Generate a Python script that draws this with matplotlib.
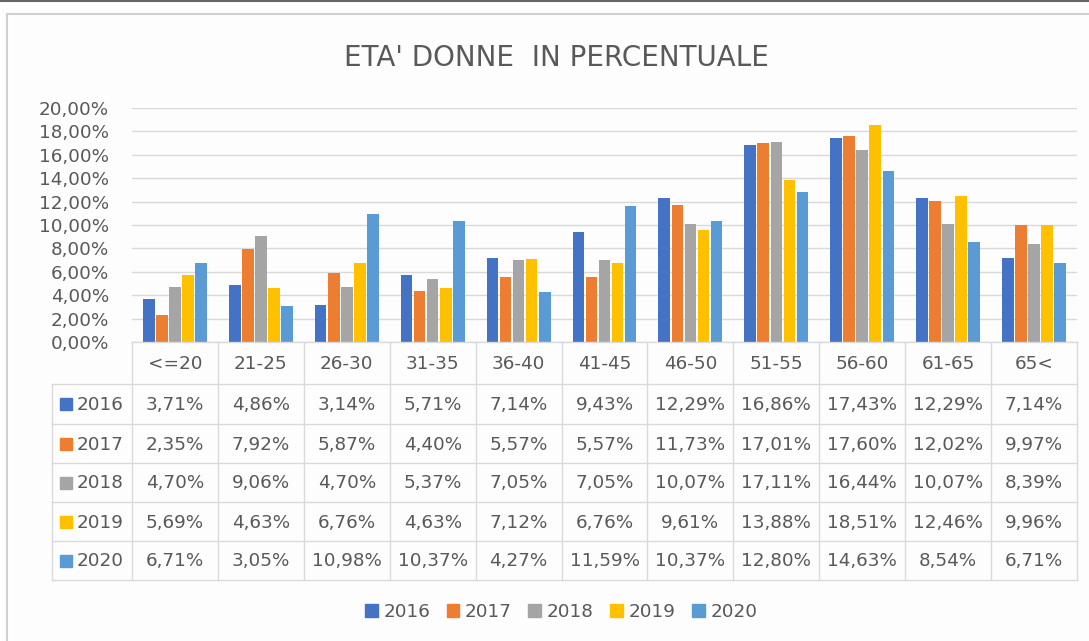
import matplotlib.pyplot as plt
from matplotlib.lines import Line2D
from matplotlib.patches import Rectangle
import numpy as np

plt.rcParams['font.family'] = ['DejaVu Sans']

categories = ['<=20', '21-25', '26-30', '31-35', '36-40', '41-45',
              '46-50', '51-55', '56-60', '61-65', '65<']
years = ['2016', '2017', '2018', '2019', '2020']
v2016 = [3.71, 4.86, 3.14, 5.71, 7.14, 9.43, 12.29, 16.86, 17.43, 12.29, 7.14]
v2017 = [2.35, 7.92, 5.87, 4.40, 5.57, 5.57, 11.73, 17.01, 17.60, 12.02, 9.97]
v2018 = [4.70, 9.06, 4.70, 5.37, 7.05, 7.05, 10.07, 17.11, 16.44, 10.07, 8.39]
v2019 = [5.69, 4.63, 6.76, 4.63, 7.12, 6.76, 9.61, 13.88, 18.51, 12.46, 9.96]
v2020 = [6.71, 3.05, 10.98, 10.37, 4.27, 11.59, 10.37, 12.80, 14.63, 8.54, 6.71]
series = [v2016, v2017, v2018, v2019, v2020]
colors = ['#4472C4', '#ED7D31', '#A5A5A5', '#FFC000', '#5B9BD5']

TXT = '#595959'
GRID = '#D9D9D9'
FS = 13.2
W, H = 1089, 641


def fx(px):
    return px / W


def fy(py):
    return 1 - py / H


fig = plt.figure(figsize=(10.89, 6.41), dpi=100)
fig.patch.set_facecolor('#FDFDFD')

# top line of the screenshot and the chart frame (left + top edges visible)
fig.add_artist(Line2D([0, 1], [fy(1), fy(1)], color='#666666', lw=1.5))
fig.add_artist(Line2D([fx(7), fx(7)], [0, fy(14)], color='#D0D0D0', lw=1.5))
fig.add_artist(Line2D([fx(7), 1], [fy(14), fy(14)], color='#D0D0D0', lw=1.5))

fig.text(fx(556), fy(58), "ETA' DONNE  IN PERCENTUALE", ha='center', va='center',
         fontsize=20, color=TXT)

# bar plot area
L, R, T, B = 132, 1077, 108, 342
ax = fig.add_axes([fx(L), fy(B), fx(R - L), fy(T) - fy(B)])
ax.set_facecolor('none')
n = len(categories)
x = np.arange(n)
step = 0.152
bw = 0.135
for i, (vals, c) in enumerate(zip(series, colors)):
    ax.bar(x + (i - 2) * step, vals, width=bw, color=c, zorder=3)
ax.set_xlim(-0.5, n - 0.5)
ax.set_ylim(0, 20)
ax.set_yticks(np.arange(0, 21, 2))
ax.set_yticklabels([f'{t:.2f}%'.replace('.', ',') for t in np.arange(0, 21, 2)],
                   fontsize=FS, color=TXT)
ax.tick_params(axis='y', length=0, pad=16.5)
ax.set_xticks([])
ax.grid(axis='y', color=GRID, lw=1, zorder=0)
for s in ax.spines.values():
    s.set_visible(False)

# data table below the plot
TL, TB = 52, 580
tax = fig.add_axes([fx(TL), fy(TB), fx(R - TL), fy(B) - fy(TB)])
tax.set_xlim(TL, R)
tax.set_ylim(TB, B)
tax.axis('off')
colw = (R - L) / n
row_edges = [342, 384, 424, 463, 502, 541, 580]
lc = '#DADADA'
# horizontal lines
tax.plot([L, R], [row_edges[0]] * 2, color=lc, lw=1, clip_on=False)
for yv in row_edges[1:]:
    tax.plot([TL, R], [yv, yv], color=lc, lw=1, clip_on=False)
# vertical lines
tax.plot([TL, TL], [row_edges[1], TB], color=lc, lw=1, clip_on=False)
for j in range(n + 1):
    xv = L + j * colw
    tax.plot([xv, xv], [row_edges[0], TB], color=lc, lw=1, clip_on=False)
# header
for j, cat in enumerate(categories):
    tax.text(L + (j + 0.5) * colw, (row_edges[0] + row_edges[1]) / 2 + 1, cat,
             ha='center', va='center', fontsize=FS, color=TXT)
# rows
for i, (yr, vals, c) in enumerate(zip(years, series, colors)):
    yc = (row_edges[i + 1] + row_edges[i + 2]) / 2
    tax.add_patch(Rectangle((60, yc - 6), 12, 12, color=c))
    tax.text(77, yc + 1, yr, ha='left', va='center', fontsize=FS, color=TXT)
    for j, v in enumerate(vals):
        tax.text(L + (j + 0.5) * colw, yc + 1, f'{v:.2f}%'.replace('.', ','),
                 ha='center', va='center', fontsize=FS, color=TXT)

# legend
handles = [Rectangle((0, 0), 1, 1, color=c) for c in colors]
fig.legend(handles, years, loc='center', bbox_to_anchor=(fx(561), fy(612)),
           ncol=5, frameon=False, fontsize=FS, handlelength=0.7, handleheight=0.7,
           handletextpad=0.3, columnspacing=0.9, labelcolor=TXT)

fig.savefig('out.png', dpi=100, facecolor=fig.get_facecolor())
